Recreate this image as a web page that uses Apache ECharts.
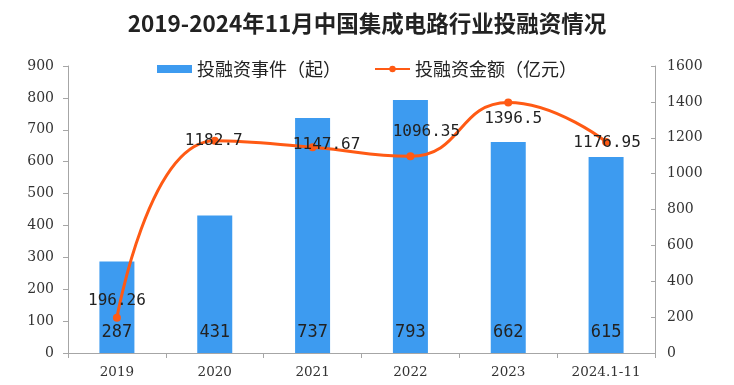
<!DOCTYPE html>
<html>
<head>
<meta charset="utf-8">
<script src="https://cdn.jsdelivr.net/npm/echarts@6/dist/echarts.min.js"></script>
<style>
html,body{margin:0;padding:0;background:#fff;}
#c{width:734px;height:385px;}
</style>
</head>
<body>
<div id="c"></div>
<script>
const titleText = '2019-2024年11月中国集成电路行业投融资情况';
const categories = ['2019', '2020', '2021', '2022', '2023', '2024.1-11'];
const eventCounts = [287, 431, 737, 793, 662, 615];
const amounts = [196.26, 1182.7, 1147.67, 1096.35, 1396.5, 1176.95];
const leftTicks = { min: 0, max: 900, interval: 100 };
const rightTicks = { min: 0, max: 1600, interval: 200 };
const seriesNames = ['投融资事件（起）', '投融资金额（亿元）'];

// label placement styling for each line point (not data)
const lineLabelOffsets = [[0, -17], [-1, 0], [14, -2], [16, -24], [5, 16], [1, 1]];

const chart = echarts.init(document.getElementById('c'));
const axisFont = { fontFamily: 'DejaVu Serif', fontSize: 13, color: '#333' };
const monoFont = 'DejaVu Sans Mono';

chart.setOption({
  animation: false,
  title: {
    text: titleText,
    left: 'center',
    top: 7,
    textStyle: { fontFamily: 'Noto Sans CJK SC', fontWeight: 'bold', fontSize: 22.5, color: '#222' }
  },
  legend: {
    top: 55,
    left: 'center',
    itemGap: 33,
    itemWidth: 35,
    itemHeight: 8,
    textStyle: { fontFamily: 'Noto Sans CJK SC', fontSize: 18, color: '#222' },
    data: [
      { name: seriesNames[0], icon: 'rect' },
      { name: seriesNames[1] }
    ]
  },
  grid: { left: 68, right: 79, top: 66, bottom: 32 },
  xAxis: {
    type: 'category',
    data: categories,
    axisLine: { lineStyle: { color: '#a6a6a6', width: 1 } },
    axisTick: { show: true, alignWithLabel: false, length: 5, lineStyle: { color: '#a6a6a6' } },
    axisLabel: Object.assign({ margin: 12 }, axisFont, { fontSize: 13.5 })
  },
  yAxis: [
    {
      type: 'value',
      min: leftTicks.min, max: leftTicks.max, interval: leftTicks.interval,
      axisLine: { show: true, lineStyle: { color: '#a6a6a6' } },
      axisTick: { show: true, length: 5, lineStyle: { color: '#a6a6a6' } },
      splitLine: { show: false },
      axisLabel: Object.assign({ margin: 14, formatter: v => String(v) }, axisFont, { fontSize: 14 })
    },
    {
      type: 'value',
      min: rightTicks.min, max: rightTicks.max, interval: rightTicks.interval,
      axisLine: { show: true, lineStyle: { color: '#a6a6a6' } },
      axisTick: { show: true, inside: true, length: 4, lineStyle: { color: '#a6a6a6' } },
      splitLine: { show: false },
      axisLabel: Object.assign({ margin: 12, formatter: v => String(v) }, axisFont, { fontSize: 14 })
    }
  ],
  series: [
    {
      name: seriesNames[0],
      type: 'bar',
      yAxisIndex: 0,
      barWidth: 35,
      data: eventCounts,
      itemStyle: { color: '#3d9bf0' },
      label: {
        show: true,
        position: 'insideBottom',
        distance: 12,
        fontFamily: monoFont,
        fontSize: 17,
        color: '#222'
      },
      z: 2
    },
    {
      name: seriesNames[1],
      type: 'line',
      yAxisIndex: 1,
      smooth: 0.5,
      symbol: 'circle',
      symbolSize: 8,
      lineStyle: { color: '#ff5a14', width: 3 },
      itemStyle: { color: '#ff5a14' },
      data: amounts.map((v, i) => ({
        value: v,
        label: { offset: lineLabelOffsets[i] }
      })),
      label: {
        show: true,
        position: 'inside',
        fontFamily: monoFont,
        fontSize: 16,
        color: '#222'
      },
      z: 3
    }
  ]
});
</script>
</body>
</html>
